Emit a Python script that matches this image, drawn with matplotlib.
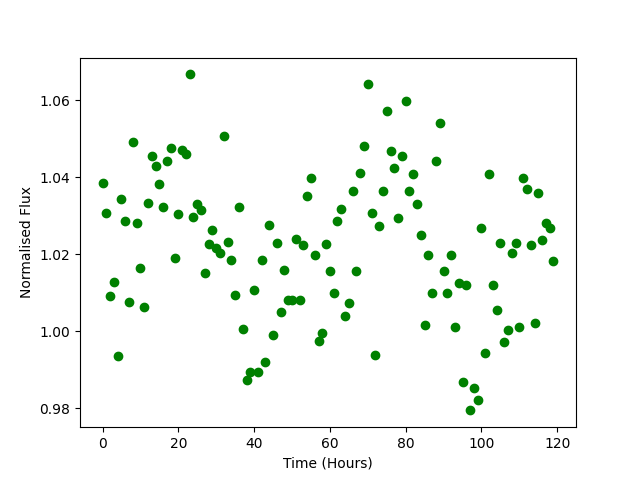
import numpy as np
import matplotlib
matplotlib.use("Agg")
import matplotlib.pyplot as plt

time_hours = np.arange(120)

flux = [
    1.0384, 1.0308, 1.0090, 1.0127, 0.9935, 1.0342, 1.0285, 1.0075, 1.0491, 1.0280,
    1.0163, 1.0062, 1.0332, 1.0456, 1.0430, 1.0381, 1.0322, 1.0442, 1.0477, 1.0189,
    1.0303, 1.0470, 1.0459, 1.0667, 1.0296, 1.0330, 1.0314, 1.0150, 1.0226, 1.0264,
    1.0215, 1.0204, 1.0506, 1.0231, 1.0186, 1.0095, 1.0322, 1.0005, 0.9872, 0.9893,
    1.0108, 0.9893, 1.0184, 0.9921, 1.0275, 0.9989, 1.0229, 1.0049, 1.0158, 1.0082,
    1.0082, 1.0239, 1.0082, 1.0223, 1.0352, 1.0399, 1.0199, 0.9974, 0.9994, 1.0226,
    1.0155, 1.0098, 1.0285, 1.0316, 1.0038, 1.0072, 1.0365, 1.0155, 1.0410, 1.0482,
    1.0641, 1.0306, 0.9939, 1.0272, 1.0365, 1.0571, 1.0469, 1.0423, 1.0295, 1.0456,
    1.0599, 1.0365, 1.0407, 1.0329, 1.0251, 1.0017, 1.0197, 1.0100, 1.0443, 1.0542,
    1.0155, 1.0098, 1.0197, 1.0010, 1.0124, 0.9869, 1.0121, 0.9794, 0.9851, 0.9820,
    1.0269, 0.9942, 1.0407, 1.0121, 1.0056, 1.0230, 0.9971, 1.0002, 1.0204, 1.0230,
    1.0010, 1.0399, 1.0368, 1.0223, 1.0020, 1.0360, 1.0238, 1.0280, 1.0269, 1.0181,
]

fig = plt.figure(figsize=(6.4, 4.8), dpi=100)
plt.plot(time_hours, flux, 'go')
plt.xlabel('Time (Hours)')
plt.ylabel('Normalised Flux')
plt.savefig('out.png')
